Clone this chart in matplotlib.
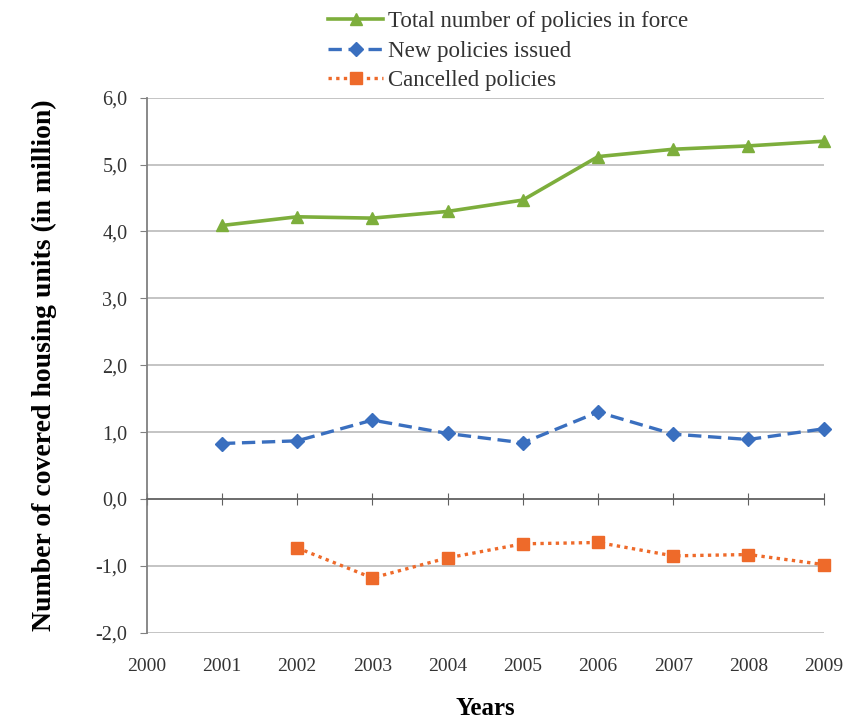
import numpy as np
import matplotlib.pyplot as plt
from matplotlib.ticker import FuncFormatter

plt.rcParams['font.family'] = ['Liberation Serif', 'DejaVu Serif']

# data (millions of housing units)
years = [2001, 2002, 2003, 2004, 2005, 2006, 2007, 2008, 2009]
total_policies = [4.09, 4.22, 4.20, 4.30, 4.47, 5.12, 5.23, 5.28, 5.35]
new_policies = [0.83, 0.87, 1.18, 0.98, 0.84, 1.30, 0.97, 0.89, 1.05]
cancel_years = [2002, 2003, 2004, 2005, 2006, 2007, 2008, 2009]
cancelled = [-0.73, -1.18, -0.88, -0.67, -0.65, -0.85, -0.83, -0.98]
year_ticks = [2000, 2001, 2002, 2003, 2004, 2005, 2006, 2007, 2008, 2009]
y_ticks = [-2, -1, 0, 1, 2, 3, 4, 5, 6]

fig = plt.figure(figsize=(8.58, 7.24), dpi=100)
ax = fig.add_axes([0.171, 0.126, 0.789, 0.739])

# grid lines
for v in y_ticks:
    if v != 0:
        ax.axhline(v, color='#BFBFBF', lw=1.3, zorder=0)

ax.plot(years, total_policies, color='#7DAE3C', lw=2.6, marker='^', ms=9,
        label='Total number of policies in force', zorder=3, clip_on=False)
ax.plot(years, new_policies, color='#3A6FBF', lw=2.4, ls=(0, (4, 2)), marker='D', ms=7,
        label='New policies issued', zorder=3, clip_on=False)
ax.plot(cancel_years, cancelled, color='#EE6A2A', lw=2.4, ls=(0, (1, 1.3)), marker='s', ms=9,
        label='Cancelled policies', zorder=3, clip_on=False)

ax.set_xlim(2000, 2009)
ax.set_ylim(-2, 6)
ax.set_yticks(y_ticks)
ax.yaxis.set_major_formatter(FuncFormatter(lambda v, p: f'{v:.1f}'.replace('.', ',')))
ax.tick_params(axis='y', length=5, color='#808080', labelsize=14.5, labelcolor='#333333', pad=9)

# x axis drawn through zero, labels at bottom
ax.spines['bottom'].set_position(('data', 0))
ax.spines['bottom'].set_color('#606060')
ax.spines['bottom'].set_linewidth(1.3)
ax.spines['left'].set_color('#808080')
ax.spines['left'].set_linewidth(1.3)
ax.spines['top'].set_visible(False)
ax.spines['right'].set_visible(False)
ax.set_xticks(year_ticks)
ax.tick_params(axis='x', direction='inout', length=9, color='#606060', labelbottom=False)

sec = ax.secondary_xaxis(0)
sec.set_xticks(year_ticks)
sec.set_xticklabels([str(y) for y in year_ticks])
sec.tick_params(length=0, labelsize=14, labelcolor='#333333', pad=18)
sec.spines['bottom'].set_visible(False)
sec.set_xlabel('Years', fontsize=18, fontweight='bold', labelpad=16)

ax.set_ylabel('Number of covered housing units (in million)', fontsize=20,
              fontweight='bold', labelpad=28)

fig.legend(loc='upper center', bbox_to_anchor=(0.592, 1.0), frameon=False,
           fontsize=16.5, handlelength=2.4, labelspacing=0.35, handletextpad=0.2,
           borderaxespad=0.1, labelcolor='#333333')

fig.savefig('out.png', dpi=100)
